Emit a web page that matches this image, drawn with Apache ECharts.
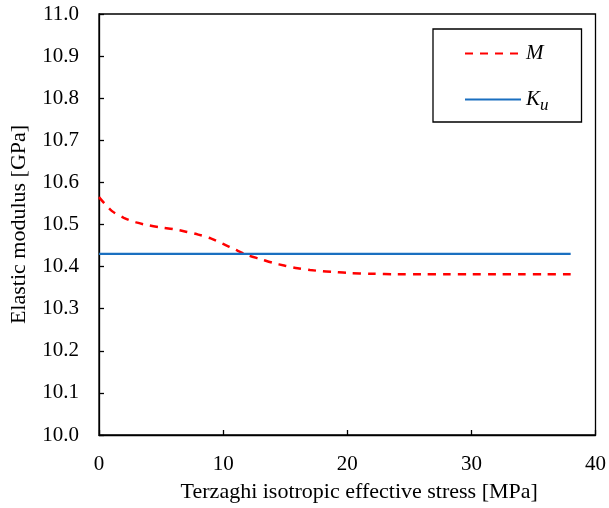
<!DOCTYPE html>
<html><head><meta charset="utf-8">
<script src="https://cdn.jsdelivr.net/npm/echarts@6/dist/echarts.min.js"></script>
<style>html,body{margin:0;padding:0;background:#fff}#c{width:609px;height:508px}</style>
</head><body><div id="c"></div>
<script>
var stressM = [0,1,2,3,4,5,6,7,8,9,10,11,12,13,14,15,16,17,18,19,20,22,24,26,28,30,32,34,36,38];
var modulusM = [10.565,10.533,10.516,10.505,10.498,10.493,10.489,10.483,10.476,10.467,10.454,10.440,10.427,10.418,10.409,10.402,10.396,10.392,10.389,10.387,10.385,10.383,10.382,10.382,10.382,10.382,10.382,10.382,10.382,10.382];
var stressKu = [0,38];
var modulusKu = [10.43,10.43];
var xTicks = [0,10,20,30,40];
var yTicks = [10.0,10.1,10.2,10.3,10.4,10.5,10.6,10.7,10.8,10.9,11.0];

var font = 'Liberation Serif';
var chart = echarts.init(document.getElementById('c'));
chart.setOption({
  animation:false,
  grid:{left:96,right:12,top:14,bottom:73,show:true,borderColor:'#000',borderWidth:1.3},
  legend:{
    orient:'vertical', left:433, top:29,
    padding:[14,33,8,31], itemGap:21, itemWidth:56, itemHeight:14,
    borderColor:'#000', borderWidth:1.3, backgroundColor:'#fff',
    itemStyle:{opacity:0},
    data:['M','Ku'],
    formatter:function(n){return n==='M'?'{i|M}':'{i|K}{s|u}';},
    textStyle:{fontFamily:font,fontSize:21,color:'#000',
      rich:{i:{fontFamily:font,fontStyle:'italic',fontSize:21,color:'#000',lineHeight:14},
            s:{fontFamily:font,fontStyle:'italic',fontSize:17,color:'#000',lineHeight:14,padding:[12,0,0,0]}}}
  },
  xAxis:{type:'value',min:xTicks[0],max:xTicks[xTicks.length-1],interval:10,
    name:'Terzaghi isotropic effective stress [MPa]',nameLocation:'middle',nameGap:46,
    nameTextStyle:{fontFamily:font,fontSize:22,color:'#000',padding:[0,0,0,24]},
    axisLine:{lineStyle:{color:'#000',width:1.3}},
    axisTick:{inside:true,length:5,lineStyle:{color:'#000',width:1.3}},
    axisLabel:{fontFamily:font,fontSize:21,color:'#000',margin:19},
    splitLine:{show:false}},
  yAxis:{type:'value',min:10.0,max:11.0,interval:0.1,
    name:'Elastic modulus [GPa]',nameLocation:'middle',nameGap:69,
    nameTextStyle:{fontFamily:font,fontSize:22,color:'#000'},
    axisLine:{show:true,lineStyle:{color:'#000',width:1.3}},
    axisTick:{show:true,inside:true,length:5,lineStyle:{color:'#000',width:1.3}},
    axisLabel:{fontFamily:font,fontSize:21,color:'#000',margin:20,formatter:function(v){return v.toFixed(1);}},
    splitLine:{show:false}},
  series:[
    {name:'M',type:'line',data:stressM.map(function(x,i){return [x,modulusM[i]];}),
     symbol:'none',smooth:0.3,lineStyle:{color:'#ff0000',width:2.5,type:[8,7]},itemStyle:{color:'#ff0000'}},
    {name:'Ku',type:'line',data:stressKu.map(function(x,i){return [x,modulusKu[i]];}),
     symbol:'none',lineStyle:{color:'#1a6fc0',width:2.2},itemStyle:{color:'#1a6fc0'}}
  ]
});
</script></body></html>
